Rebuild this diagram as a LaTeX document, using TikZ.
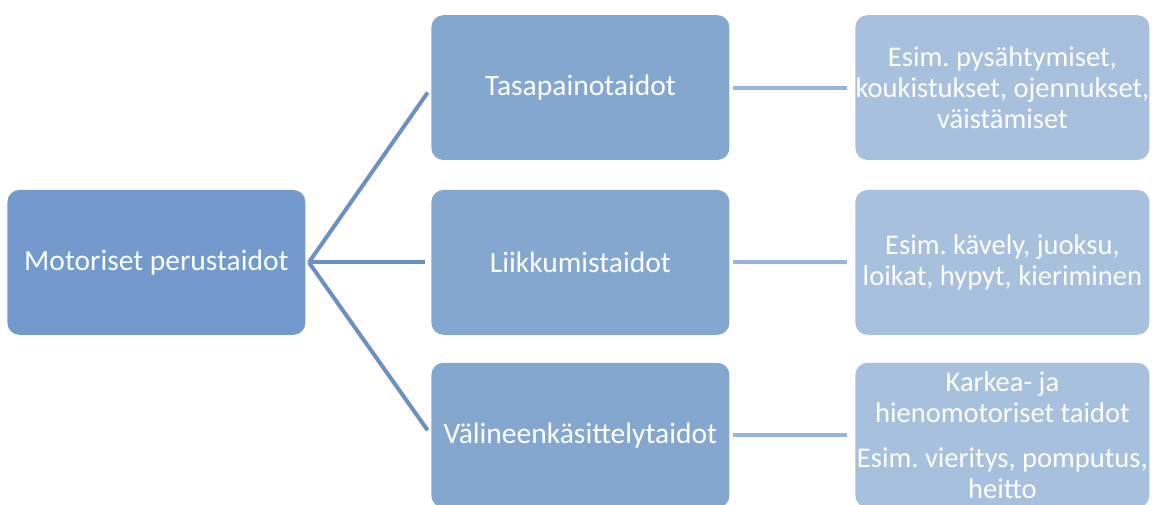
\documentclass[tikz,border=0pt]{standalone}
\usepackage{fontspec}
\setmainfont{Carlito}
\usetikzlibrary{positioning}
\definecolor{rootblue}{RGB}{114,154,204}
\definecolor{skillblue}{RGB}{132,167,208}
\definecolor{exblue}{RGB}{167,192,222}
\definecolor{linkblue}{RGB}{108,143,196}
\definecolor{linklight}{RGB}{155,181,217}
\frenchspacing
\begin{document}
\begin{tikzpicture}[node distance=10.6cm, auto]
  \tikzstyle{skill} = [rectangle, fill=skillblue, text=white, align=center, rounded corners=0.3cm, minimum width=7.45cm, minimum height=3.62cm, font=\fontsize{21}{22}\selectfont]
  \tikzstyle{root} = [skill, fill=rootblue]
  \tikzstyle{example} = [skill, fill=exblue, inner xsep=0pt, minimum width=7.35cm, font=\fontsize{20.3}{22}\selectfont]
  \tikzstyle{link} = [draw=linkblue, line width=0.1cm, shorten >=0.15cm]
  \tikzstyle{sublink} = [draw=linklight, line width=0.1cm, shorten <=0.08cm, shorten >=0.2cm]

  \useasboundingbox (0,0) rectangle (28.8,-12.625);

  \node [root] (motor) at (3.91,-6.56) {Motoriset perustaidot};
  \node [skill, right of=motor] (liikku) {Liikkumistaidot};
  \node [skill, above of=liikku, node distance=4.37cm] (tasa) {Tasapainotaidot};
  \node [skill, below of=liikku, node distance=4.32cm] (valine) {Välineenkäsittelytaidot};

  \node [example, right of=tasa, node distance=10.55cm] (tasaex) {Esim. pysähtymiset,\\ koukistukset, ojennukset,\\ väistämiset};
  \node [example, right of=liikku, node distance=10.55cm] (liikkuex) {Esim. kävely, juoksu,\\ loikat, hypyt, kieriminen};
  \node [example, right of=valine, node distance=10.55cm] (valineex) {Karkea- ja\\ hienomotoriset taidot\\[0.37cm] Esim. vieritys, pomputus,\\ heitto};

  \coordinate (fork) at ([xshift=0.08cm]motor.east);
  \draw[link] (fork) -- (tasa.west);
  \draw[link] (fork) -- (liikku.west);
  \draw[link] (fork) -- (valine.west);

  \draw[sublink] (tasa) -- (tasaex);
  \draw[sublink] (liikku) -- (liikkuex);
  \draw[sublink] (valine) -- (valineex);
\end{tikzpicture}
\end{document}
